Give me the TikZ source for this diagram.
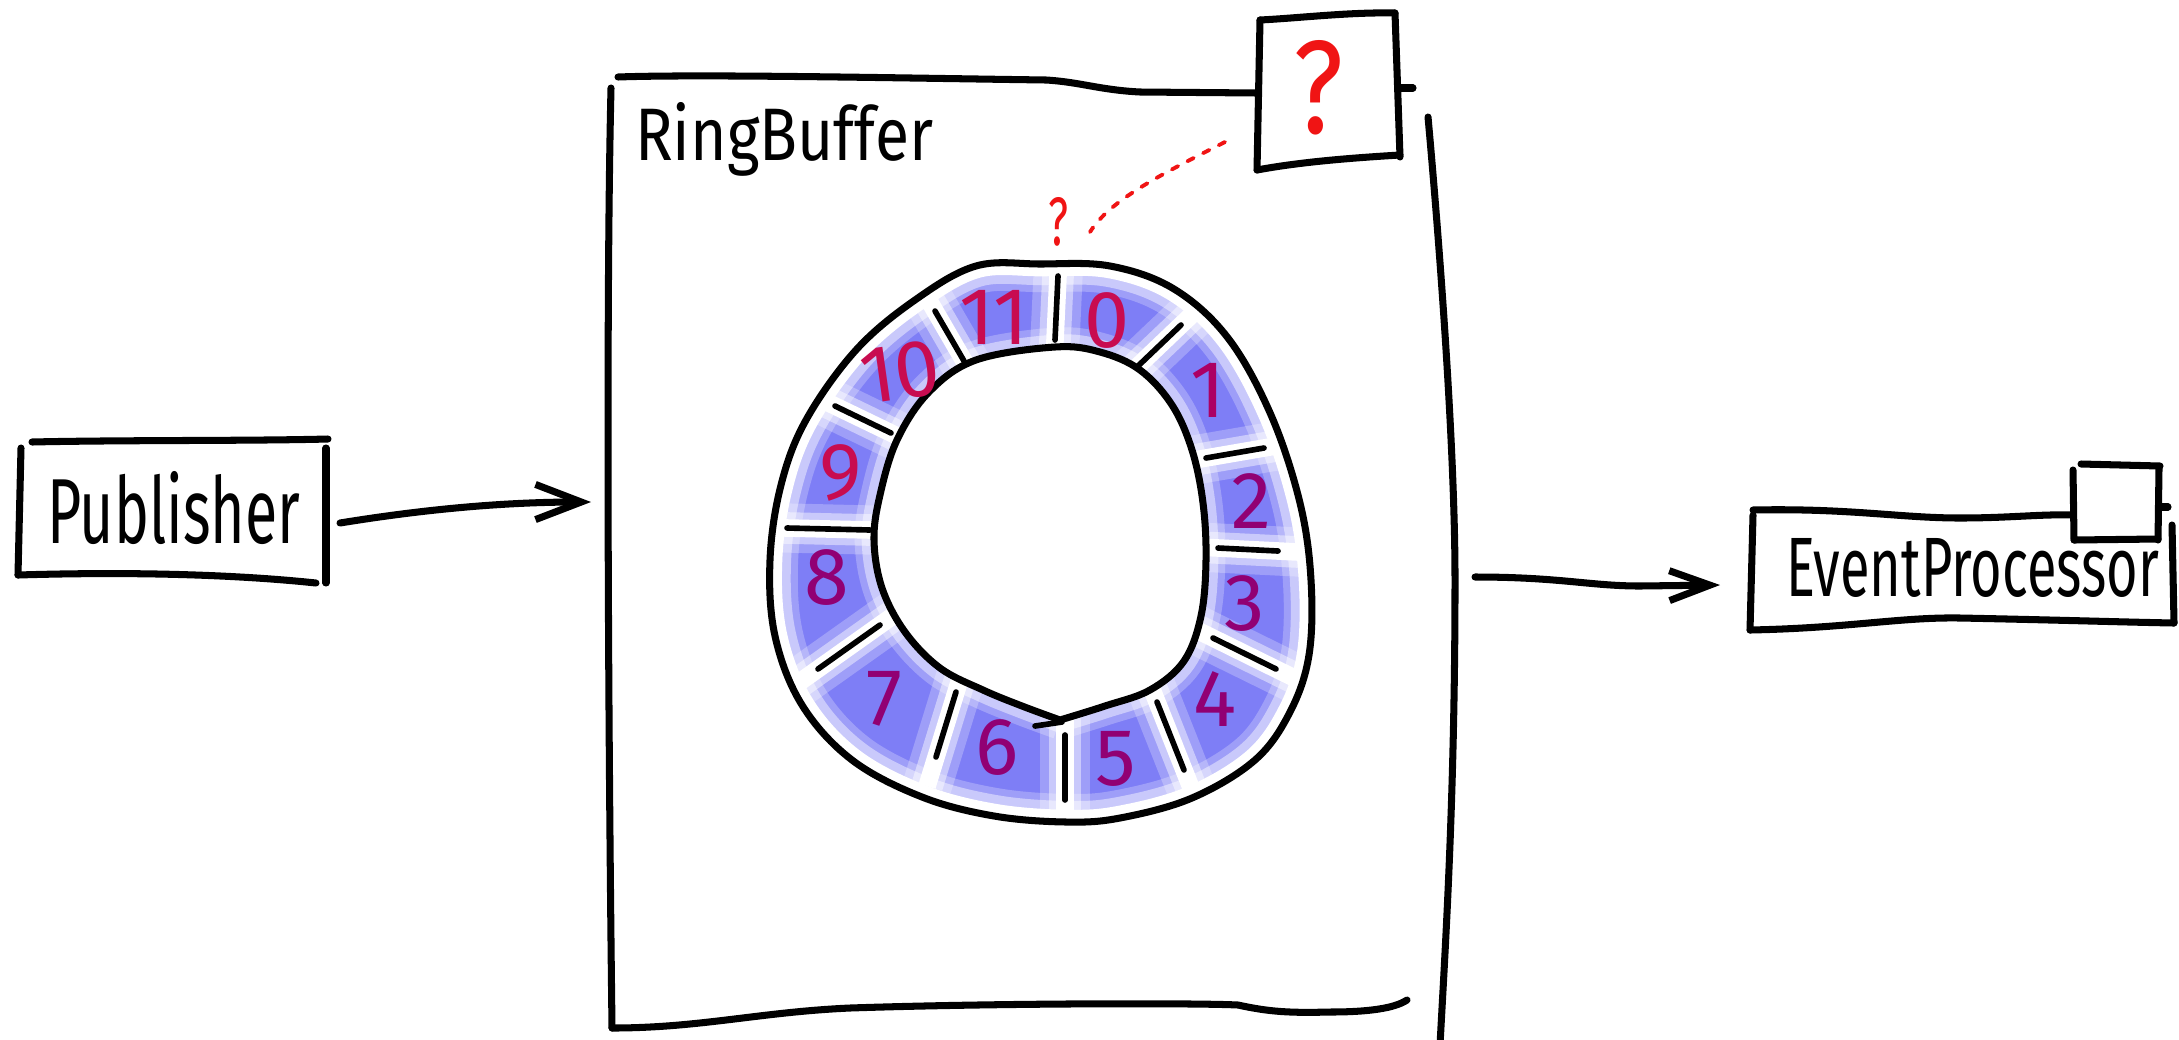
\documentclass[tikz,border=0pt]{standalone}
\usepackage{fontspec}
\usepackage{graphicx}
\setmainfont{Fira Sans}
\usetikzlibrary{arrows.meta,calc}

\definecolor{cellblue}{RGB}{126,126,246}
\definecolor{numred}{RGB}{200,12,80}
\definecolor{nummid}{RGB}{172,0,100}
\definecolor{numpur}{RGB}{145,0,115}
\definecolor{qred}{RGB}{240,20,20}

\begin{document}
\begin{tikzpicture}[x=0.01cm,y=-0.01cm,
  ink/.style={line width=2pt,line cap=round,line join=round,draw=black},
  divink/.style={line width=1.6pt,line cap=round,draw=black},
  hand/.style={inner sep=0pt,outer sep=0pt,anchor=base west},
  num/.style={inner sep=0pt,font=\fontsize{23}{23}\selectfont},
  arrowink/.style={ink,-{Straight Barb[length=13pt,width=10pt]}},
  arrowinkb/.style={ink,-{Straight Barb[length=11.5pt,width=8.5pt]}},
  gapfaint/.style={draw=white,line width=14pt,opacity=0.25},
  gapsoft/.style={draw=white,line width=9pt,opacity=0.45},
  gaphard/.style={draw=white,line width=5pt}
]
\useasboundingbox (0,0) rectangle (2179,1039);

% ---------- Publisher ----------
\draw[ink] (32,442) .. controls (120,440) and (250,441) .. (328,439);
\draw[ink] (21,448) -- (18,575);
\draw[ink] (18,575) .. controls (150,571) and (250,576) .. (316,583);
\draw[ink] (326,448) -- (326,583);
\node[hand] (pub) at (47,543) {\resizebox{2.53cm}{0.72cm}{Publisher}};

\coordinate (pubout) at (340,523);
\coordinate (rbin) at (591,502);
\draw[arrowink] (pubout) .. controls (420,510) and (500,502) .. (rbin);

% ---------- RingBuffer box ----------
\draw[ink] (611,88) .. controls (606,300) and (608,700) .. (612,1028);
\draw[ink] (618,77) .. controls (700,74) and (900,78) .. (1046,80)
  .. controls (1080,82) and (1100,90) .. (1140,92) -- (1257,93);
\draw[ink] (612,1028) .. controls (700,1028) and (760,1012) .. (850,1008)
  .. controls (1000,1003) and (1200,1003) .. (1238,1005)
  .. controls (1270,1012) and (1290,1013) .. (1330,1012)
  .. controls (1370,1012) and (1395,1008) .. (1407,1000);
\draw[ink] (1428,117) .. controls (1440,250) and (1455,450) .. (1455,580)
  .. controls (1455,800) and (1445,950) .. (1440,1045);
\node[hand] (rbt) at (635,160) {\resizebox{2.98cm}{0.58cm}{RingBuffer}};

% ---------- ? box ----------
\draw[ink] (1260,20) .. controls (1300,18) and (1350,12) .. (1395,13);
\draw[ink] (1395,13) -- (1400,157);
\draw[ink] (1260,20) -- (1257,170);
\draw[ink] (1257,170) .. controls (1300,162) and (1350,158) .. (1400,155);
\draw[ink] (1398,88) -- (1413,88);

% ---------- ring ----------
\fill[cellblue] plot[smooth cycle,tension=0.6] coordinates {
 (976,266) (1040,264) (1110,266) (1174,289) (1228,338) (1271,415) (1300,503)
 (1311,580) (1309,655) (1290,712) (1255,760) (1192,798) (1120,818) (1066,822)
 (994,816) (922,797) (852,760) (802,705) (775,636) (770,560) (781,485)
 (806,420) (856,350) (915,300)};
\foreach \w/\o in {16pt/0.25, 12pt/0.45, 7pt/1}{
\draw[draw=white,line width=\w,opacity=\o] plot[smooth cycle,tension=0.6] coordinates {
 (976,266) (1040,264) (1110,266) (1174,289) (1228,338) (1271,415) (1300,503)
 (1311,580) (1309,655) (1290,712) (1255,760) (1192,798) (1120,818) (1066,822)
 (994,816) (922,797) (852,760) (802,705) (775,636) (770,560) (781,485)
 (806,420) (856,350) (915,300)};
}
\foreach \w/\o in {11pt/0.25, 7pt/0.45}{
\draw[draw=white,line width=\w,opacity=\o] plot[smooth,tension=0.6] coordinates {
 (1060,720) (1105,706) (1150,690) (1184,661) (1201,616) (1206,560) (1203,503)
 (1192,450) (1172,405) (1140,370) (1100,352) (1055,347) (976,360) (929,392)
 (897,440) (880,495) (874,540) (882,588) (905,632) (940,668) (983,690)
 (1022,706) (1060,720)};
}
\foreach \ax/\ay/\bx/\by in {
 1058/276/1055/340, 1138/366/1181/325, 1206/458/1264/448,
 1218/548/1278/551, 1213/638/1276/669, 1157/702/1184/770,
 1065/735/1065/800, 956/692/936/757, 880/625/818/669,
 787/528/870/530, 835/406/891/433, 935/311/964/361}{
  \draw[gapfaint] ($(\ax,\ay)!-0.45!(\bx,\by)$) -- ($(\bx,\by)!-0.45!(\ax,\ay)$);
  \draw[gapsoft] ($(\ax,\ay)!-0.45!(\bx,\by)$) -- ($(\bx,\by)!-0.45!(\ax,\ay)$);
  \draw[gaphard] ($(\ax,\ay)!-0.45!(\bx,\by)$) -- ($(\bx,\by)!-0.45!(\ax,\ay)$);
}
\fill[white] plot[smooth,tension=0.6] coordinates {
 (1060,720) (1105,706) (1150,690) (1184,661) (1201,616) (1206,560) (1203,503)
 (1192,450) (1172,405) (1140,370) (1100,352) (1055,347) (976,360) (929,392)
 (897,440) (880,495) (874,540) (882,588) (905,632) (940,668) (983,690)
 (1022,706) (1060,720)} -- cycle;
\draw[ink] plot[smooth cycle,tension=0.6] coordinates {
 (976,266) (1040,264) (1110,266) (1174,289) (1228,338) (1271,415) (1300,503)
 (1311,580) (1309,655) (1290,712) (1255,760) (1192,798) (1120,818) (1066,822)
 (994,816) (922,797) (852,760) (802,705) (775,636) (770,560) (781,485)
 (806,420) (856,350) (915,300)};
\draw[ink] plot[smooth,tension=0.6] coordinates {
 (1060,720) (1105,706) (1150,690) (1184,661) (1201,616) (1206,560) (1203,503)
 (1192,450) (1172,405) (1140,370) (1100,352) (1055,347) (976,360) (929,392)
 (897,440) (880,495) (874,540) (882,588) (905,632) (940,668) (983,690)
 (1022,706) (1060,720)};
\draw[divink] (1035,726) -- (1062,722);
\foreach \ax/\ay/\bx/\by in {
 1058/276/1055/340, 1138/366/1181/325, 1206/458/1264/448,
 1218/548/1278/551, 1213/638/1276/669, 1157/702/1184/770,
 1065/735/1065/800, 956/692/936/757, 880/625/818/669,
 787/528/870/530, 835/406/891/433, 935/311/964/361}{
  \draw[divink] (\ax,\ay) -- (\bx,\by);
}
\node[num,text=numred]  (c0)  at (1107,321) {0};
\node[num,text=nummid]  (c1)  at (1208,390) {1};
\node[num,text=numpur]  (c2)  at (1251,501) {2};
\node[num,text=numpur]  (c3)  at (1245,604) {3};
\node[num,text=numpur]  (c4)  at (1215,699) {4};
\node[num,text=numpur]  (c5)  at (1116,759) {5};
\node[num,text=numpur]  (c6)  at (997,748)  {6};
\node[num,text=numpur]  (c7)  at (884,699)  {7};
\node[num,text=numpur]  (c8)  at (827,578)  {8};
\node[num,text=numred]  (c9)  at (841,473)  {9};
\node[num,text=numred,rotate=8] (c10) at (900,372) {10};
\node[num,text=numred]  (c11) at (994,317) {11};

% ---------- question marks ----------
\node[hand,text=qred] (qbig) at (1293,133) {\resizebox{0.5cm}{0.93cm}{?}};
\node[hand,text=qred] (qsmall) at (1048,245) {\resizebox{0.2cm}{0.48cm}{?}};
\coordinate (dotA) at (1225,142);
\coordinate (dotB) at (1090,232);
\draw[qred,line width=1.1pt,dash pattern=on 2pt off 3pt,line cap=round]
  (dotA) .. controls (1160,175) and (1110,200) .. (dotB);

% ---------- EventProcessor ----------
\draw[ink] (1753,510) .. controls (1850,508) and (1900,518) .. (1960,518)
  .. controls (2010,518) and (2040,514) .. (2073,515);
\draw[ink] (1753,515) -- (1750,630);
\draw[ink] (1750,630) .. controls (1850,628) and (1900,617) .. (1960,618)
  .. controls (2060,620) and (2120,622) .. (2174,623);
\draw[ink] (2172,525) -- (2174,623);
\draw[ink] (2081,464) -- (2160,466);
\draw[ink] (2073,470) -- (2074,540);
\draw[ink] (2159,468) -- (2158,540);
\draw[ink] (2074,540) -- (2158,539);
\draw[ink] (2159,507) -- (2168,507);
\node[hand] (ept) at (1786,596) {\resizebox{3.73cm}{0.58cm}{EventProcessor}};

\coordinate (rbout) at (1475,577);
\coordinate (epin) at (1720,585);
\draw[arrowinkb] (rbout) .. controls (1560,577) and (1590,586) .. (1640,586) -- (epin);
\end{tikzpicture}
\end{document}
